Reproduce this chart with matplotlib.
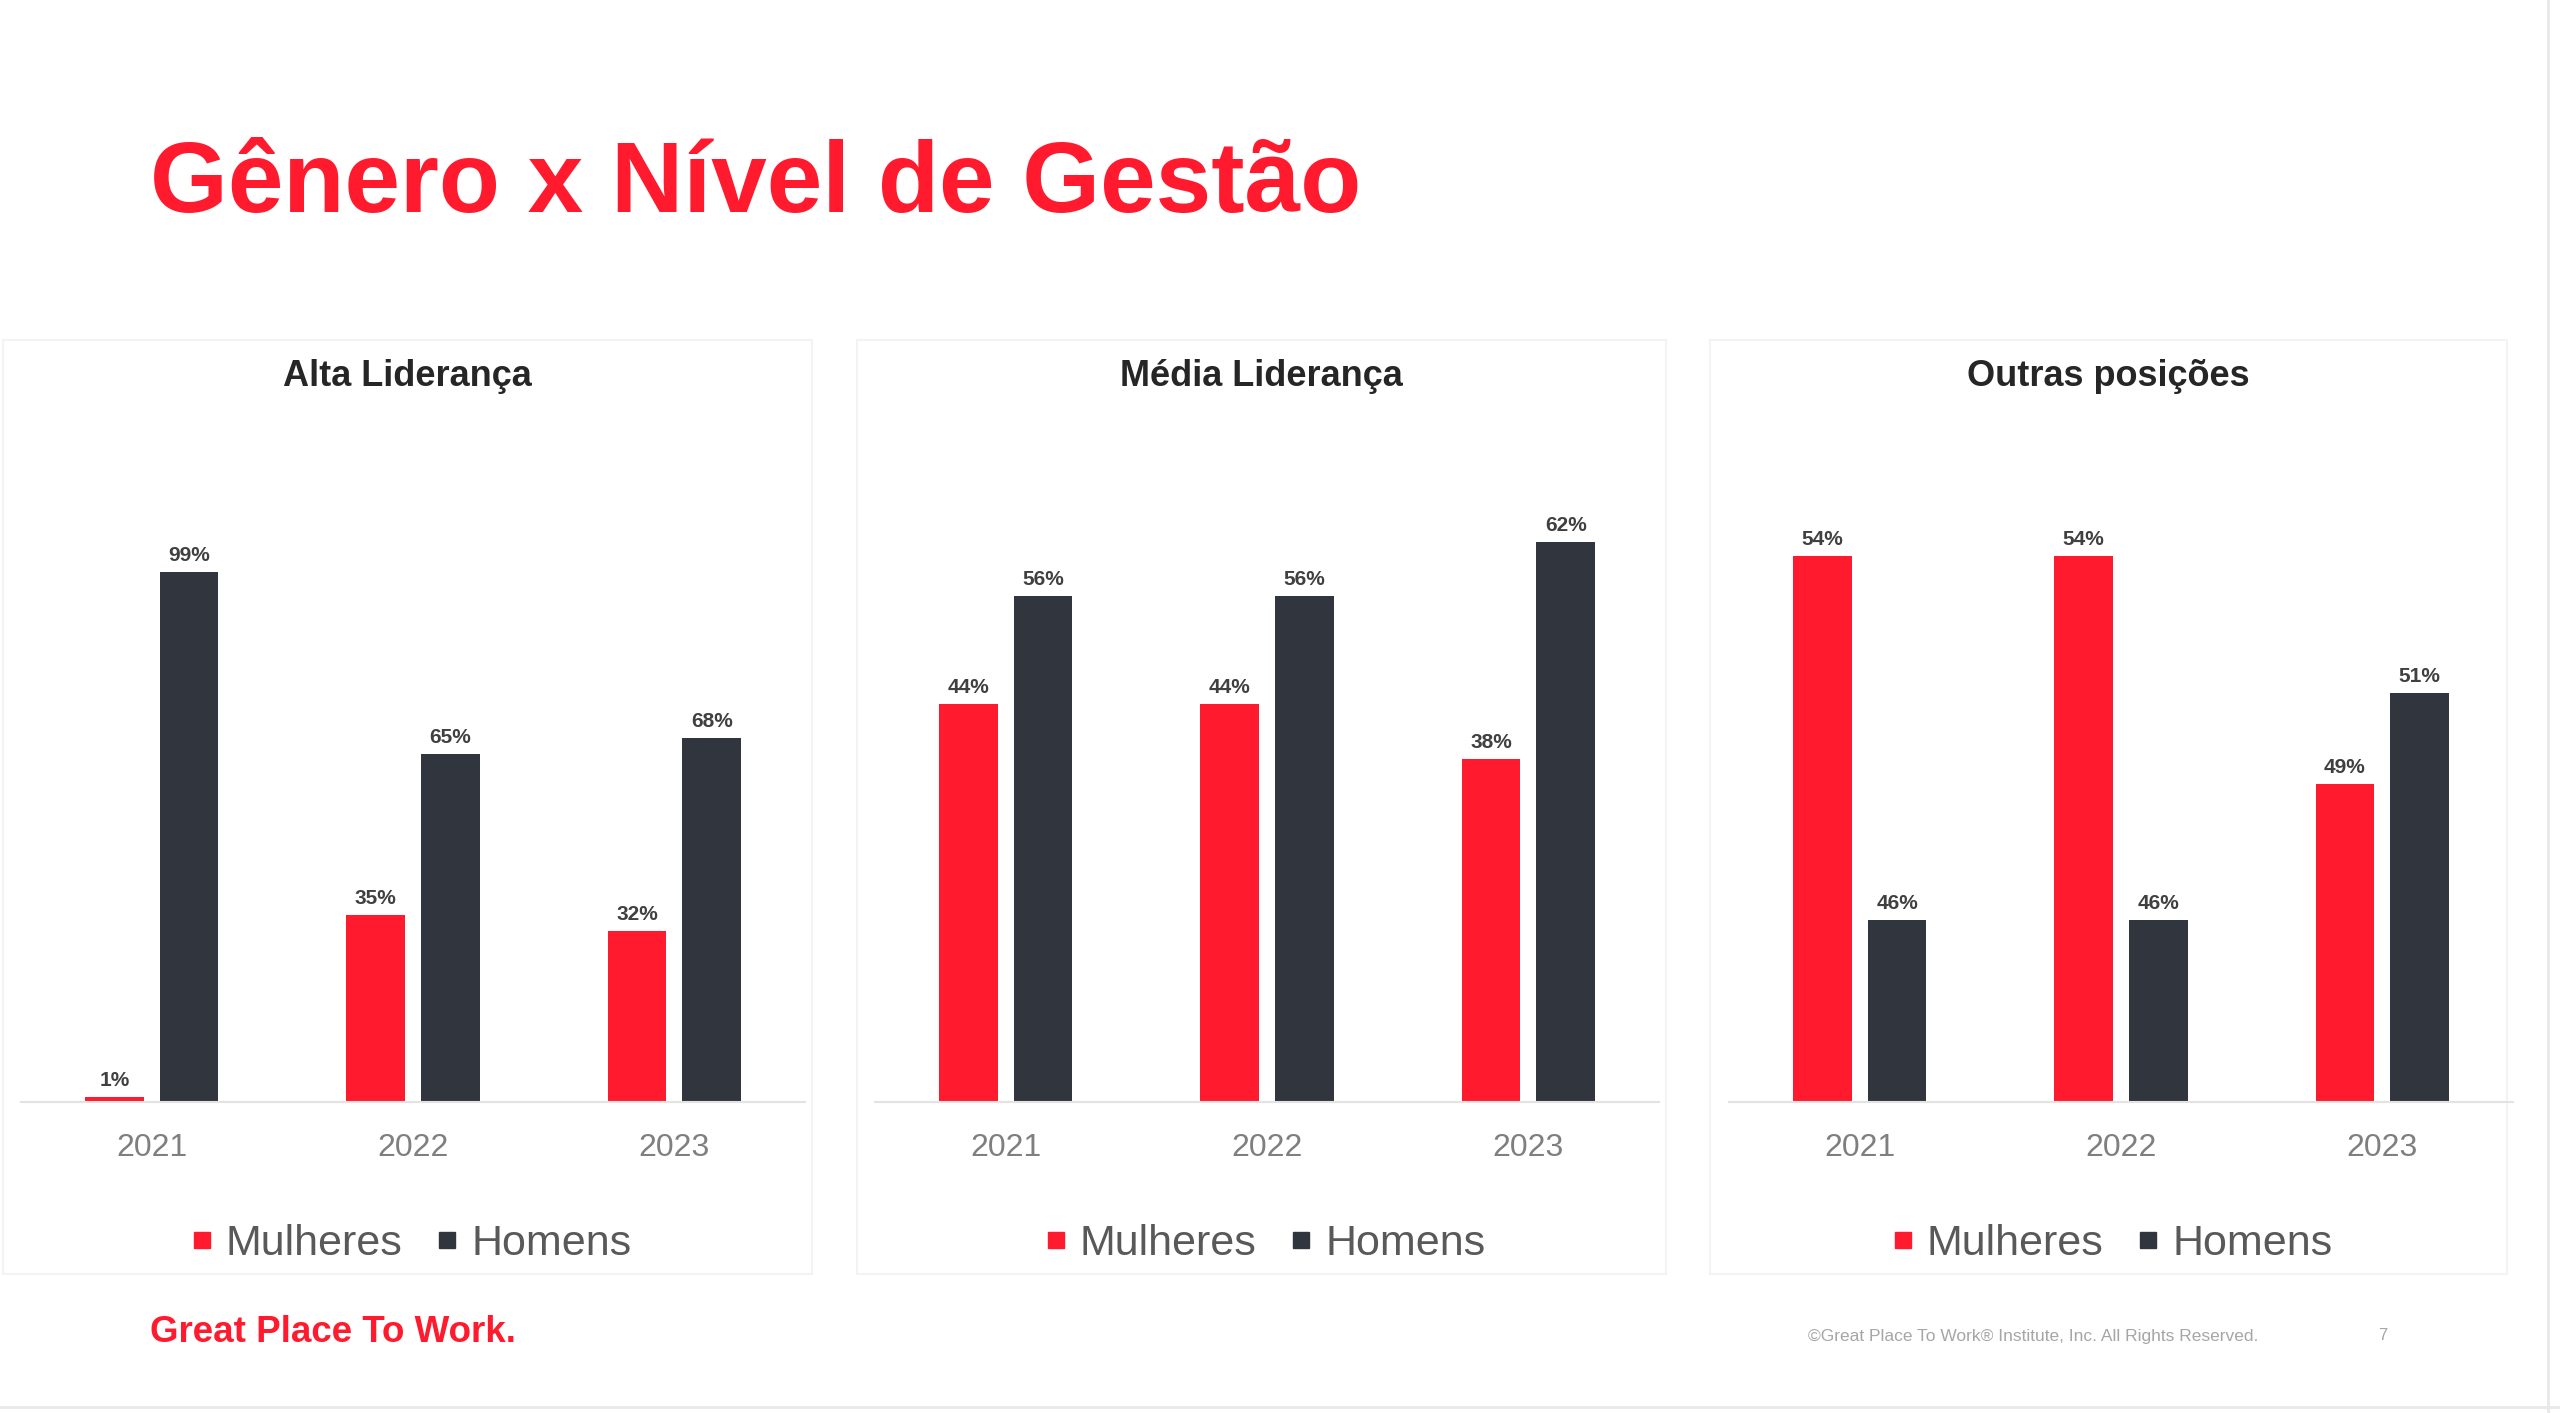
import numpy as np
import matplotlib
matplotlib.use('Agg')
import matplotlib.pyplot as plt
from matplotlib.patches import Rectangle
from matplotlib.lines import Line2D

# Data
years = ['2021', '2022', '2023']
panel_titles = ['Alta Liderança', 'Média Liderança', 'Outras posições']
series_names = ['Mulheres', 'Homens']
alta_mulheres = [1, 35, 32]
alta_homens = [99, 65, 68]
media_mulheres = [44, 44, 38]
media_homens = [56, 56, 62]
outras_mulheres = [54, 54, 49]
outras_homens = [46, 46, 51]

red = '#FF1A2D'
dark = '#31363E'

plt.rcParams['font.family'] = ['Liberation Sans', 'DejaVu Sans']

W, H = 2560, 1413
fig = plt.figure(figsize=(W / 100, H / 100), dpi=100)
fig.patch.set_facecolor('white')


def fx(px):
    return px / W


def fy(py):
    return 1 - py / H


# layout in pixels of the full-size slide
boxes = [(3, 812), (857, 1666), (1710, 2507)]
axes_x = [(21, 805), (875, 1659), (1729, 2513)]
ylims = [(0, 119), (0, 70.5), (42, 56)]
box_top, box_bot = 340, 1274
ax_top, ax_bot = 465, 1102

data = [(alta_mulheres, alta_homens),
        (media_mulheres, media_homens),
        (outras_mulheres, outras_homens)]

# title
fig.text(fx(150), fy(212), 'Gênero x Nível de Gestão', ha='left', va='baseline',
         fontsize=72, fontweight='bold', color=red)

x = np.arange(len(years))
w = 0.225
off = 0.143

for i in range(3):
    x0, x1 = boxes[i]
    fig.add_artist(Rectangle((fx(x0), fy(box_bot)), (x1 - x0) / W, (box_bot - box_top) / H,
                             transform=fig.transFigure, facecolor='white',
                             edgecolor='#F3F3F3', lw=1.5, zorder=0))
    cx = fx((x0 + x1) / 2)
    fig.text(cx, fy(377), panel_titles[i], ha='center', va='center',
             fontsize=26, fontweight='bold', color='#262626')

    a0, a1 = axes_x[i]
    ax = fig.add_axes([fx(a0), fy(ax_bot), (a1 - a0) / W, (ax_bot - ax_top) / H])
    ax.set_facecolor('none')
    m, h = data[i]
    b1 = ax.bar(x - off, m, w, color=red)
    b2 = ax.bar(x + off, h, w, color=dark)
    ax.bar_label(b1, labels=[f'{v}%' for v in m], padding=5, fontsize=15,
                 fontweight='bold', color='#404040')
    ax.bar_label(b2, labels=[f'{v}%' for v in h], padding=5, fontsize=15,
                 fontweight='bold', color='#404040')
    ax.set_xlim(-0.5, 2.5)
    ax.set_ylim(*ylims[i])
    ax.set_xticks(x)
    ax.set_xticklabels(years, fontsize=23, color='#7F7F7F')
    ax.tick_params(axis='x', length=0, pad=22)
    ax.set_yticks([])
    for s in ['top', 'right', 'left']:
        ax.spines[s].set_visible(False)
    ax.spines['bottom'].set_color('#E3E3E3')
    ax.spines['bottom'].set_linewidth(1.5)

    handles = [Line2D([], [], marker='s', ls='', color=red, markersize=12),
               Line2D([], [], marker='s', ls='', color=dark, markersize=12)]
    ax.legend(handles, series_names, loc='center', bbox_to_anchor=(cx + 0.001, fy(1244)),
              bbox_transform=fig.transFigure, ncol=2, frameon=False, fontsize=31,
              handletextpad=0.25, columnspacing=0.75, handlelength=0.6,
              labelcolor='#595959')

# footer
fig.text(fx(150), fy(1333), 'Great Place To Work.', ha='left', va='center',
         fontsize=26.5, fontweight='bold', color=red)
fig.text(fx(1808), fy(1336), '©Great Place To Work® Institute, Inc. All Rights Reserved.',
         ha='left', va='center', fontsize=12.5, color='#A6A6A6')
fig.text(fx(2378), fy(1336), '7', ha='left', va='center', fontsize=12, color='#A6A6A6')

# slide edges
fig.add_artist(Line2D([fx(2548), fx(2548)], [0, 1], transform=fig.transFigure,
                      color='#E8E8E8', lw=2))
fig.add_artist(Line2D([0, 1], [fy(1407), fy(1407)], transform=fig.transFigure,
                      color='#E8E8E8', lw=2))

fig.savefig('out.png', dpi=100)
